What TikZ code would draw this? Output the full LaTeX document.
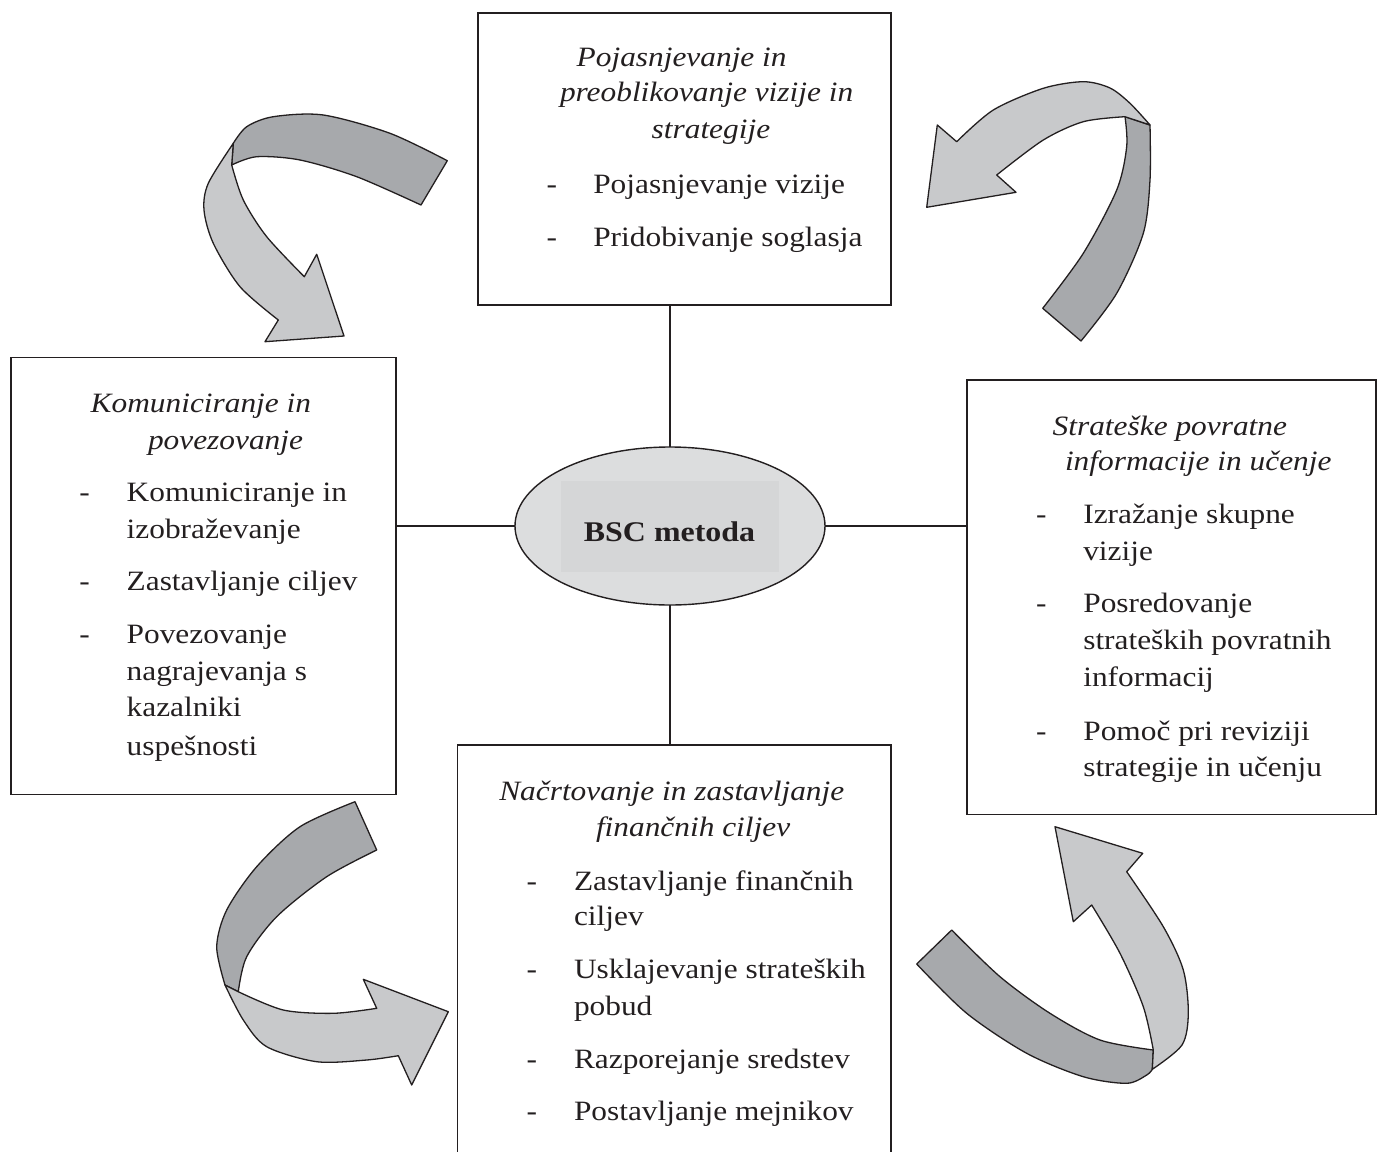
\documentclass[tikz,border=0pt]{standalone}
\usepackage{fontspec}
\setmainfont{Liberation Serif}[FakeStretch=1.12]
\usetikzlibrary{shapes.geometric}
\definecolor{ink}{HTML}{231F20}
\definecolor{ribdark}{HTML}{A7A9AC}
\definecolor{riblight}{HTML}{C8C9CB}
\definecolor{ellfill}{HTML}{DCDDDE}
\definecolor{ellrect}{HTML}{D5D6D7}
\tikzset{
  box/.style={draw=ink, line width=1.6pt, rectangle, inner sep=0pt, outer sep=0pt},
  conn/.style={draw=ink, line width=1.4pt},
  txt/.style={anchor=base west, inner sep=0pt, outer sep=0pt, text=ink, font=\fontsize{28}{36}\selectfont},
  itx/.style={txt, font=\fontsize{28}{36}\selectfont\itshape},
  ribA/.style={fill=ribdark, draw=ink, line width=1.3pt, line join=round},
  ribB/.style={fill=riblight, draw=ink, line width=1.3pt, line join=round}
}
\begin{document}
\begin{tikzpicture}[x=1pt,y=-1pt]
\useasboundingbox (0,0) rectangle (1381,1151);

% boxes
\node[box, minimum width=413pt, minimum height=292.3pt] (top) at (684.2,158.85) {};
\node[box, minimum width=385.3pt, minimum height=437pt] (left) at (203.35,575.8) {};
\node[box, minimum width=409pt, minimum height=434.3pt] (right) at (1171.2,597.15) {};
\node[box, minimum width=433.4pt, minimum height=425pt] (bottom) at (674,957.5) {};

% central ellipse
\node[ellipse, draw=ink, line width=1.4pt, fill=ellfill, minimum width=310pt, minimum height=158pt, inner sep=0pt, outer sep=0pt] (ell) at (670,526) {};
\node[fill=ellrect, minimum width=217.7pt, minimum height=90.7pt, inner sep=0pt] (ellr) at (669.85,526.35) {};
\node[inner sep=0pt, anchor=base, text=ink, font=\fontsize{28.5}{34}\selectfont\bfseries] (bsc) at (669.5,541.7) {BSC metoda};

% connectors
\draw[conn] (ell.north) -- (ell.north |- top.south);
\draw[conn] (ell.south) -- (ell.south |- bottom.north);
\draw[conn] (ell.west) -- (ell.west -| left.east);
\draw[conn] (ell.east) -- (ell.east -| right.west);

% top box text
\node[itx] (t1) at (576.7,66.7) {Pojasnjevanje in};
\node[itx] (t2) at (560,101.7) {preoblikovanje vizije in};
\node[itx] (t3) at (651.7,138.3) {strategije};
\node[txt] (td1) at (546.7,193) {-};
\node[txt] (tb1) at (593.3,193) {Pojasnjevanje vizije};
\node[txt] (td2) at (546.7,246.7) {-};
\node[txt] (tb2) at (593.3,246.7) {Pridobivanje soglasja};

% left box text
\node[itx] (l1) at (90.7,412.7) {Komuniciranje in};
\node[itx] (l2) at (148,449.3) {povezovanje};
\node[txt] (ld1) at (79.3,501.7) {-};
\node[txt] (lb1a) at (126.7,501.7) {Komuniciranje in};
\node[txt] (lb1b) at (126.7,538.3) {izobraževanje};
\node[txt] (ld2) at (79.3,590.7) {-};
\node[txt] (lb2) at (126.7,590.7) {Zastavljanje ciljev};
\node[txt] (ld3) at (79.3,643.3) {-};
\node[txt] (lb3a) at (126.7,643.3) {Povezovanje};
\node[txt] (lb3b) at (126.7,680) {nagrajevanja s};
\node[txt] (lb3c) at (126.7,716.7) {kazalniki};
\node[txt] (lb3d) at (126.7,755) {uspešnosti};

% right box text
\node[itx] (r1) at (1052.7,435) {Strateške povratne};
\node[itx] (r2) at (1065,470) {informacije in učenje};
\node[txt] (rd1) at (1036,523.3) {-};
\node[txt] (rb1a) at (1083.3,523.3) {Izražanje skupne};
\node[txt] (rb1b) at (1083.3,560) {vizije};
\node[txt] (rd2) at (1036,612.7) {-};
\node[txt] (rb2a) at (1083.3,612.7) {Posredovanje};
\node[txt] (rb2b) at (1083.3,649.3) {strateških povratnih};
\node[txt] (rb2c) at (1083.3,686) {informacij};
\node[txt] (rd3) at (1036,740) {-};
\node[txt] (rb3a) at (1083.3,740) {Pomoč pri reviziji};
\node[txt] (rb3b) at (1083.3,776.7) {strategije in učenju};

% bottom box text
\node[itx] (b1) at (499.3,800) {Načrtovanje in zastavljanje};
\node[itx] (b2) at (596,836.7) {finančnih ciljev};
\node[txt] (bd1) at (526.7,890) {-};
\node[txt] (bb1a) at (574,890) {Zastavljanje finančnih};
\node[txt] (bb1b) at (574,925) {ciljev};
\node[txt] (bd2) at (526.7,978.3) {-};
\node[txt] (bb2a) at (574,978.3) {Usklajevanje strateških};
\node[txt] (bb2b) at (574,1015) {pobud};
\node[txt] (bd3) at (526.7,1068.3) {-};
\node[txt] (bb3) at (574,1068.3) {Razporejanje sredstev};
\node[txt] (bd4) at (526.7,1120) {-};
\node[txt] (bb4) at (574,1120) {Postavljanje mejnikov};

% ribbon arrow top-left
\path[ribA] plot[smooth] coordinates {(447.3,160.7) (390,133.3) (323.3,115) (273.3,116.7) (246.7,126.7) (233.3,143.3)}
  -- (231.7,165) -- plot[smooth] coordinates {(231.7,165) (256.7,156.7) (300,160) (356.7,176.7) (421,205)} -- cycle;
\path[ribB] plot[smooth] coordinates {(233.3,143.3) (208.3,183.3) (204,210) (213.3,243.3) (240,286.7) (278.3,320)}
  -- (265,341.7) -- (344,336) -- (316.7,254.3) -- (304.3,276.7)
  -- plot[smooth] coordinates {(304.3,276.7) (266.7,236.7) (243.3,200) (231.7,165)} -- cycle;

% ribbon arrow top-right
\path[ribA] plot[smooth] coordinates {(1125,116.7) (1126.7,146.7) (1116.7,190) (1083.3,253.3) (1042.7,308.3)}
  -- (1081,341) -- plot[smooth] coordinates {(1081,341) (1116.7,293.3) (1143.3,233.3) (1150,180) (1150,125)} -- cycle;
\path[ribB] (956.7,141.7) -- (937.3,125) -- (926.7,207.3) -- (1016,192.3) -- (996.7,175)
  -- plot[smooth] coordinates {(996.7,175) (1043.3,140) (1083.3,121.7) (1125,116.7)} -- (1150,125)
  -- plot[smooth] coordinates {(1150,125) (1130,103.3) (1110,88) (1083.3,81.7) (1043.3,88.3) (993.3,110) (956.7,141.7)} -- cycle;

% ribbon arrow bottom-left
\path[ribA] plot[smooth] coordinates {(355,801.7) (300,826.7) (256.7,866.7) (226.7,910) (216.7,946.7) (225,985)}
  -- (238.3,991.7) -- plot[smooth] coordinates {(238.3,991.7) (246.7,956.7) (276.7,916.7) (326.7,876.7) (376.7,850)} -- cycle;
\path[ribB] plot[smooth] coordinates {(225,985) (243.3,1020) (266.7,1046.7) (316.7,1061.7) (366.7,1060) (398.3,1055.7)}
  -- (411.7,1085) -- (448.3,1011.7) -- (363.3,979.3) -- (376.7,1008.3)
  -- plot[smooth] coordinates {(376.7,1008.3) (333.3,1013.3) (283.3,1010) (238.3,991.7)} -- cycle;

% ribbon arrow bottom-right
\path[ribA] plot[smooth] coordinates {(951.7,930) (1000,976.7) (1050,1013.3) (1100,1040) (1153.3,1050)}
  -- (1152.3,1069.3) -- plot[smooth] coordinates {(1152.3,1069.3) (1146.7,1075) (1126.7,1083.3) (1083.3,1076.7) (1026.7,1053.3) (966.7,1013.3) (916.7,964)} -- cycle;
\path[ribB] plot[smooth] coordinates {(1153.3,1050) (1143.3,1006.7) (1120,953.3) (1091.7,905)}
  -- (1073.3,921.7) -- (1055,826.7) -- (1142.7,853.3) -- (1126.7,871.7)
  -- plot[smooth] coordinates {(1126.7,871.7) (1163.3,926.7) (1183.3,970) (1188.3,1013.3) (1182,1045) (1152.3,1069.3)} -- cycle;
\end{tikzpicture}
\end{document}
